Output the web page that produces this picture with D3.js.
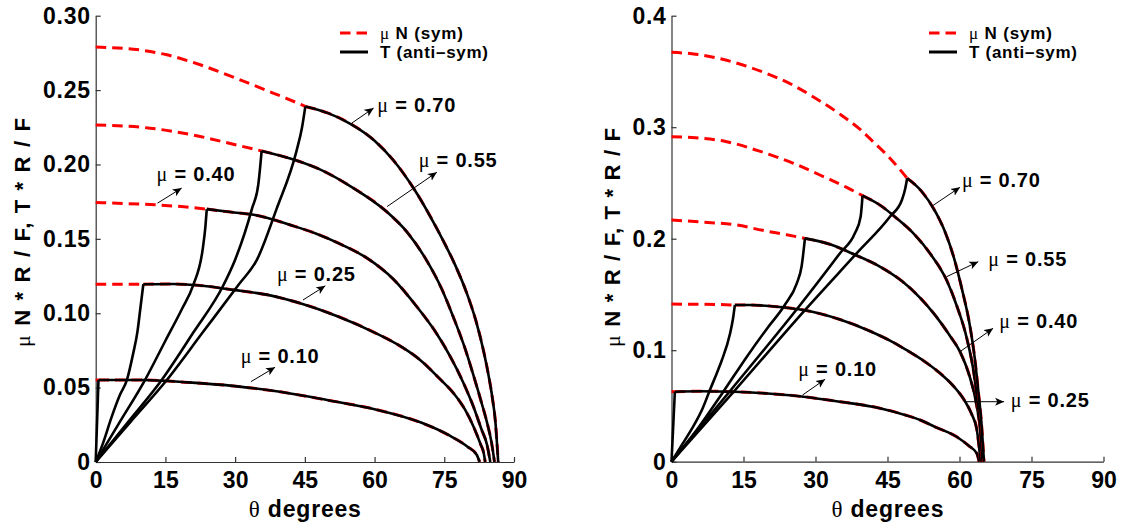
<!DOCTYPE html>
<html>
<head>
<meta charset="utf-8">
<script src="https://cdn.jsdelivr.net/npm/d3@7"></script>
<style>
  body { margin: 0; background: #fff; }
  svg text { font-family: "Liberation Sans", Arial, sans-serif; font-weight: bold; fill: #000; }
  svg text .greek { font-family: "Liberation Serif", "DejaVu Serif", serif; font-weight: normal; }
</style>
</head>
<body>
<svg id="chart" width="1125" height="525"></svg>
<script>
// ---- shared axis data ----
const thetaTicks = [0, 15, 30, 45, 60, 75, 90];
const leftYTicks = [0, 0.05, 0.10, 0.15, 0.20, 0.25, 0.30];
const leftYLabels = ["0", "0.05", "0.10", "0.15", "0.20", "0.25", "0.30"];
const rightYTicks = [0, 0.1, 0.2, 0.3, 0.4];
const rightYLabels = ["0", "0.1", "0.2", "0.3", "0.4"];
const muValues = [0.10, 0.25, 0.40, 0.55, 0.70];

// ---- left panel: [theta (deg), value] ----
// mu N (sym) before the corner, T (anti-sym) rising branch, and the common branch after it
const leftN010 = [[0, 0.0551], [0.6, 0.0551]];
const leftT010 = [[0, 0], [0.6, 0.0551]];
const leftTail010 = [[0.6, 0.0551], [10, 0.0551], [20, 0.0535], [30, 0.0510], [40, 0.0470], [50, 0.0415], [60, 0.0355], [70, 0.0265], [76, 0.0180], [80, 0.0103], [82, 0.0047], [82.6, 0]];

const leftN025 = [[0, 0.1195], [5, 0.1195], [10.25, 0.1195]];
const leftT025 = [[0, 0], [1.5, 0.012], [3.4, 0.030], [5.2, 0.045], [6.7, 0.055], [8.0, 0.072], [9.0, 0.088], [9.6, 0.103], [10.25, 0.1195]];
const leftTail025 = [[10.25, 0.1195], [16.7, 0.1197], [23, 0.1185], [29.6, 0.1157], [37.5, 0.1120], [44, 0.1067], [52, 0.0980], [60, 0.0870], [66, 0.0770], [69.8, 0.0686], [74, 0.0560], [77, 0.0462], [79.5, 0.0350], [81.3, 0.0237], [82.8, 0.0120], [83.5, 0.0058], [83.8, 0]];

const leftN040 = [[0, 0.1744], [6, 0.1738], [13.5, 0.1728], [19, 0.1715], [23.9, 0.1700]];
const leftT040 = [[0, 0], [5, 0.026], [10.6, 0.0551], [15, 0.0815], [18.5, 0.1025], [21.0, 0.119], [23.0, 0.1426], [23.6, 0.158], [23.9, 0.170]];
const leftTail040 = [[23.9, 0.170], [29, 0.1680], [34.3, 0.1660], [42.2, 0.1590], [47.2, 0.1538], [53, 0.1460], [58.4, 0.1370], [64, 0.1230], [69.1, 0.1044], [73, 0.0880], [76.3, 0.0708], [79, 0.0540], [81.3, 0.0370], [83, 0.0220], [84.2, 0.0115], [84.9, 0]];

const leftN055 = [[0, 0.2266], [11.7, 0.2244], [22.5, 0.2188], [29.6, 0.2136], [35.7, 0.2091]];
const leftT055 = [[0, 0], [7, 0.027], [14.2, 0.0551], [21, 0.087], [27.5, 0.119], [30, 0.136], [33.6, 0.170], [35.0, 0.187], [35.7, 0.2091]];
const leftTail055 = [[35.7, 0.2091], [42.9, 0.2030], [48, 0.1970], [55, 0.1850], [62.7, 0.1680], [67, 0.1545], [71.3, 0.1350], [74.5, 0.1160], [77, 0.0970], [79.5, 0.0760], [81.3, 0.0580], [83, 0.0400], [84.2, 0.0265], [85.2, 0.0125], [85.8, 0]];

const leftN070 = [[0, 0.2789], [8.1, 0.2775], [15.3, 0.2737], [22.5, 0.2670], [29.6, 0.2587], [36.8, 0.2497], [41, 0.2445], [45.1, 0.2390]];
const leftT070 = [[0, 0], [7.5, 0.027], [15.3, 0.0551], [23, 0.087], [30.7, 0.119], [34.7, 0.136], [38.9, 0.170], [43.2, 0.209], [44.4, 0.225], [45.1, 0.239]];
const leftTail070 = [[45.1, 0.239], [50, 0.2345], [55, 0.2270], [60, 0.2160], [64, 0.2030], [68.6, 0.1830], [72, 0.1650], [74.9, 0.1480], [77.4, 0.1320], [79.9, 0.1130], [81.8, 0.0950], [83.5, 0.0740], [84.6, 0.0570], [85.3, 0.0440], [86.0, 0.0270], [86.6, 0]];

// ---- right panel ----
const rightN010 = [[0, 0.0628], [0.7, 0.0628]];
const rightT010 = [[0, 0], [0.7, 0.0628]];
const rightTail010 = [[0.7, 0.0628], [6, 0.0632], [12.9, 0.0628], [20, 0.0612], [27.5, 0.0583], [35.1, 0.0538], [43.4, 0.0480], [49, 0.0415], [51.8, 0.0374], [55, 0.0310], [59.4, 0.0224], [62, 0.0140], [63.6, 0.0075], [64.1, 0]];

const rightN025 = [[0, 0.1414], [5, 0.1412], [10, 0.1410], [13.2, 0.1405]];
const rightT025 = [[0, 0], [2, 0.014], [4.5, 0.0314], [6.5, 0.048], [8.0, 0.0643], [9.5, 0.080], [10.5, 0.0912], [12.2, 0.115], [12.8, 0.128], [13.2, 0.1405]];
const rightTail025 = [[13.2, 0.1405], [16.4, 0.1405], [22, 0.1390], [27.5, 0.1360], [35.1, 0.1275], [41.4, 0.1170], [46, 0.1075], [49, 0.1000], [52.5, 0.0905], [55.9, 0.0795], [58.5, 0.0690], [61.1, 0.0545], [62.5, 0.0430], [63.6, 0.0290], [64.4, 0]];

const rightN040 = [[0, 0.2168], [6, 0.2150], [13.6, 0.2123], [19, 0.2075], [24, 0.2035], [27.8, 0.2003]];
const rightT040 = [[0, 0], [5, 0.027], [10.8, 0.0628], [15.7, 0.0942], [20, 0.120], [23.6, 0.1405], [26.1, 0.160], [27.1, 0.175], [27.8, 0.2003]];
const rightTail040 = [[27.8, 0.2003], [33, 0.1950], [38, 0.1860], [43.4, 0.1750], [48, 0.1620], [51.8, 0.1470], [55, 0.1310], [58, 0.1130], [60.1, 0.0987], [62, 0.0780], [63.6, 0.0500], [64.4, 0.0250], [64.8, 0]];

const rightN055 = [[0, 0.2915], [5, 0.2905], [11.5, 0.2870], [18, 0.2790], [25.4, 0.2676], [32, 0.2550], [36.5, 0.2460], [39.8, 0.2386]];
const rightT055 = [[0, 0], [12.5, 0.065], [26.8, 0.1405], [35.1, 0.187], [38.2, 0.2048], [39.4, 0.2197], [39.8, 0.2386]];
const rightTail055 = [[39.8, 0.2386], [43.4, 0.2302], [47, 0.2180], [50.4, 0.2048], [54, 0.1860], [57.3, 0.1630], [59.5, 0.1390], [61.5, 0.1110], [63, 0.0790], [63.8, 0.0520], [64.4, 0.0260], [64.8, 0]];

const rightN070 = [[0, 0.3672], [5, 0.3655], [11.5, 0.3600], [18.4, 0.3505], [25.4, 0.3375], [30, 0.3260], [35, 0.3120], [39.3, 0.2980], [42, 0.2870], [45, 0.2745], [47.6, 0.2620], [49.1, 0.2542]];
const rightT070 = [[0, 0], [13.2, 0.0640], [27.8, 0.1360], [38.6, 0.1870], [45.5, 0.2197], [48.0, 0.2347], [48.7, 0.2450], [49.1, 0.2542]];
const rightTail070 = [[49.1, 0.2542], [52, 0.2430], [55, 0.2240], [57, 0.2060], [58.9, 0.1820], [60.5, 0.1550], [62.2, 0.1210], [63.2, 0.0920], [63.9, 0.0640], [64.6, 0.0330], [65.1, 0]];

// ---- annotation anchors in data units: arrow tail, arrow head, label baseline-left ----
const leftNotes = [
  { label: "0.10", tail: [33.4, 0.054], head: [38.6, 0.0637], text: [31.2, 0.0666] },
  { label: "0.25", tail: [44.6, 0.1089], head: [49.4, 0.1184], text: [39.0, 0.1217] },
  { label: "0.40", tail: [13.3, 0.174], head: [18.5, 0.1841], text: [13.1, 0.189] },
  { label: "0.55", tail: [62.7, 0.1717], head: [73.4, 0.1948], text: [69.5, 0.1984] },
  { label: "0.70", tail: [55.1, 0.2278], head: [59.8, 0.2379], text: [60.6, 0.2354] }
];
const rightNotes = [
  { label: "0.10", tail: [27.3, 0.0598], head: [32.0, 0.0739], text: [26.4, 0.0769] },
  { label: "0.25", tail: [61.1, 0.0538], head: [69.3, 0.0538], text: [70.7, 0.0491] },
  { label: "0.40", tail: [60.1, 0.0987], head: [67.0, 0.1196], text: [68.3, 0.1199] },
  { label: "0.55", tail: [57.3, 0.1659], head: [63.9, 0.1794], text: [66.0, 0.1755] },
  { label: "0.70", tail: [54.4, 0.2296], head: [60.1, 0.2461], text: [60.5, 0.2464] }
];

const svg = d3.select("#chart");
const defs = svg.append("defs");
defs.append("marker")
  .attr("id", "arrowHead")
  .attr("viewBox", "0 0 10 10")
  .attr("refX", 10).attr("refY", 5)
  .attr("markerWidth", 9).attr("markerHeight", 9)
  .attr("markerUnits", "userSpaceOnUse")
  .attr("orient", "auto")
  .append("path")
  .attr("d", "M0,0.5 L10,5 L0,9.5 L2.5,5 Z")
  .attr("fill", "#000");

function greekText(sel, greek, rest) {
  sel.append("tspan").attr("class", "greek").text(greek);
  sel.append("tspan").text(rest);
}

function drawPanel(p) {
  const x = d3.scaleLinear().domain([0, 90]).range(p.xRange);
  const y = d3.scaleLinear().domain(p.yDomain).range(p.yRange);
  const g = svg.append("g");

  // axes with inward ticks
  const xAxis = d3.axisBottom(x).tickValues(thetaTicks).tickFormat(d3.format("d"))
    .tickSizeInner(-5).tickSizeOuter(0).tickPadding(10);
  const yAxis = d3.axisLeft(y).tickValues(p.yTicks).tickFormat((d, i) => p.yLabels[i])
    .tickSizeInner(-5).tickSizeOuter(0).tickPadding(5);

  const gx = g.append("g").attr("transform", `translate(0,${p.yRange[0]})`).call(xAxis);
  const gy = g.append("g").attr("transform", `translate(${p.xRange[0]},0)`).call(yAxis);
  [gx, gy].forEach(a => {
    a.selectAll("path.domain").attr("stroke", "#333").attr("stroke-width", 1.2);
    a.selectAll(".tick line").attr("stroke", "#333").attr("stroke-width", 1.2);
    a.selectAll(".tick text")
      .style("font-family", '"Liberation Sans", Arial, sans-serif')
      .style("font-weight", "bold").style("font-size", "23px").attr("fill", "#000");
  });
  gy.selectAll(".tick text").style("letter-spacing", "0.7px");

  const line = d3.line().x(d => x(d[0])).y(d => y(d[1])).curve(d3.curveMonotoneX);

  p.curves.forEach(c => {
    // mu N (sym): red dashed, drawn first
    [c.N, c.tail].forEach(seg => {
      g.append("path").attr("d", line(seg)).attr("fill", "none")
        .attr("stroke", "#ff0000").attr("stroke-width", 3)
        .attr("stroke-dasharray", "10.5,6");
    });
    // T (anti-sym): solid black on top
    [c.T, c.tail].forEach(seg => {
      g.append("path").attr("d", line(seg)).attr("fill", "none")
        .attr("stroke", "#000").attr("stroke-width", 2.6)
        .attr("stroke-linejoin", "miter");
    });
  });

  // annotations
  p.notes.forEach(n => {
    g.append("line")
      .attr("x1", x(n.tail[0])).attr("y1", y(n.tail[1]))
      .attr("x2", x(n.head[0])).attr("y2", y(n.head[1]))
      .attr("stroke", "#000").attr("stroke-width", 1)
      .attr("marker-end", "url(#arrowHead)");
    const t = g.append("text").attr("x", x(n.text[0])).attr("y", y(n.text[1]))
      .style("font-size", "20px").attr("textLength", 78).attr("lengthAdjust", "spacing");
    greekText(t, "\u03BC", " = " + n.label);
  });

  // legend
  const lx = p.legend[0], ly = p.legend[1];
  g.append("line").attr("x1", lx).attr("x2", lx + 28).attr("y1", ly).attr("y2", ly)
    .attr("stroke", "#ff0000").attr("stroke-width", 3).attr("stroke-dasharray", "10.5,6");
  g.append("line").attr("x1", lx).attr("x2", lx + 28).attr("y1", ly + 19).attr("y2", ly + 19)
    .attr("stroke", "#000").attr("stroke-width", 3);
  const l1 = g.append("text").attr("x", lx + 40).attr("y", ly + 6).style("font-size", "17px")
    .attr("textLength", 83).attr("lengthAdjust", "spacing");
  greekText(l1, "\u03BC", " N (sym)");
  g.append("text").attr("x", lx + 40).attr("y", ly + 25).style("font-size", "17px")
    .attr("textLength", 108).attr("lengthAdjust", "spacing")
    .text("T (anti\u2013sym)");

  // axis titles
  const xt = g.append("text").attr("x", (p.xRange[0] + p.xRange[1]) / 2).attr("y", 517)
    .attr("text-anchor", "middle").style("font-size", "23px")
    .attr("textLength", 112).attr("lengthAdjust", "spacing");
  greekText(xt, "\u03B8", " degrees");

  const yt = g.append("text")
    .attr("transform", `translate(${p.yTitleX},${p.yTitleMid}) rotate(-90)`)
    .attr("text-anchor", "middle").style("font-size", "22px")
    .attr("textLength", p.yTitleLen).attr("lengthAdjust", "spacing");
  greekText(yt, "\u03BC", " N * R / F, T * R / F");
}

const leftCurves = [
  { mu: muValues[0], N: leftN010, T: leftT010, tail: leftTail010 },
  { mu: muValues[1], N: leftN025, T: leftT025, tail: leftTail025 },
  { mu: muValues[2], N: leftN040, T: leftT040, tail: leftTail040 },
  { mu: muValues[3], N: leftN055, T: leftT055, tail: leftTail055 },
  { mu: muValues[4], N: leftN070, T: leftT070, tail: leftTail070 }
];
const rightCurves = [
  { mu: muValues[0], N: rightN010, T: rightT010, tail: rightTail010 },
  { mu: muValues[1], N: rightN025, T: rightT025, tail: rightTail025 },
  { mu: muValues[2], N: rightN040, T: rightT040, tail: rightTail040 },
  { mu: muValues[3], N: rightN055, T: rightT055, tail: rightTail055 },
  { mu: muValues[4], N: rightN070, T: rightT070, tail: rightTail070 }
];

drawPanel({
  xRange: [95.7, 514], yDomain: [0, 0.3], yRange: [462, 15.7],
  yTicks: leftYTicks, yLabels: leftYLabels,
  curves: leftCurves, notes: leftNotes, legend: [340, 33],
  yTitleX: 30, yTitleMid: 232.5, yTitleLen: 229
});
drawPanel({
  xRange: [671.5, 1103.5], yDomain: [0, 0.4], yRange: [461.7, 15.7],
  yTicks: rightYTicks, yLabels: rightYLabels,
  curves: rightCurves, notes: rightNotes, legend: [929, 33],
  yTitleX: 620, yTitleMid: 237.5, yTitleLen: 219
});
</script>
</body>
</html>
